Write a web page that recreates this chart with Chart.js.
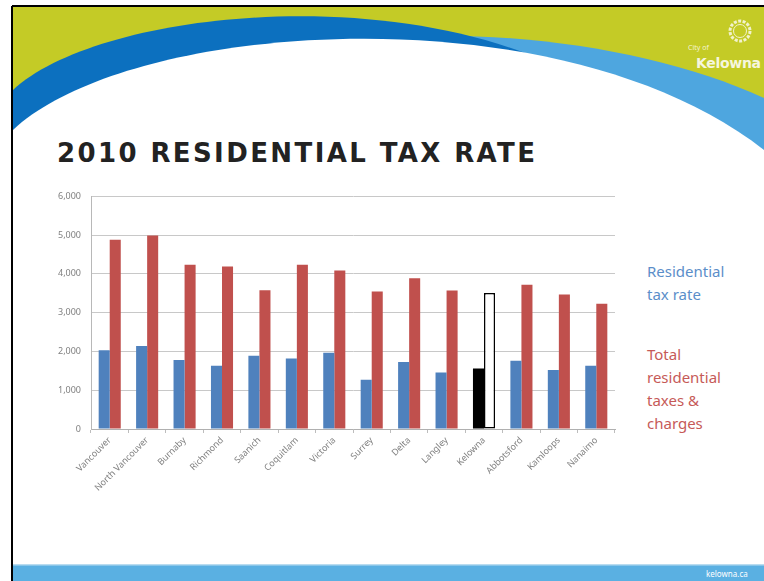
<!DOCTYPE html>
<html>
<head>
<meta charset="utf-8">
<script src="https://cdn.jsdelivr.net/npm/chart.js@4.4.1/dist/chart.umd.min.js"></script>
<style>
  body { margin: 0; width: 764px; height: 581px; overflow: hidden; background: #fff; position: relative; font-family: "Noto Sans", sans-serif; }
  #bg { position: absolute; left: 0; top: 0; }
  #title { position: absolute; left: 57px; top: 138px; font: bold 26px "DejaVu Sans", sans-serif; letter-spacing: 2.4px; color: #222; white-space: nowrap; }
  #chartBox { position: absolute; left: 41px; top: 181px; width: 580px; height: 340px; }
  .key { position: absolute; left: 647px; font-size: 15px; line-height: 23px; }
  #keyRate { top: 260px; color: #5b8ec9; }
  #keyTotal { top: 343px; color: #c65a58; }
  #city { position: absolute; left: 688px; top: 43px; font-size: 7px; color: #f4f4d0; }
  #kel { position: absolute; left: 696px; top: 55px; font: bold 14px "DejaVu Sans", sans-serif; color: #f6f6de; letter-spacing: -0.3px; }
  #site { position: absolute; left: 706px; top: 568px; font-size: 8px; color: #fff; }
</style>
</head>
<body>
<svg id="bg" width="764" height="581">
  <rect x="0" y="0" width="764" height="581" fill="#fff"/>
  <rect x="13" y="7" width="751" height="220" fill="#c4cb26"/>
  <path d="M360,40 C500,25 660,50 764,98 L764,300 L360,300 Z" fill="#4ea6df"/>
  <path d="M13,90 C90,18 350,-15 530,55 L530,300 L13,300 Z" fill="#0c70bf"/>
  <path d="M13,130 C130,20 560,-10 764,150 L764,300 L13,300 Z" fill="#fff"/>
  <g fill="none" stroke="#f2f2cc" stroke-width="3" stroke-dasharray="3 1.5">
    <circle cx="740" cy="31" r="10"/>
  </g>
  <circle cx="740" cy="31" r="6.5" fill="none" stroke="#f2f2cc" stroke-width="1"/>
  <rect x="13" y="565" width="751" height="16" fill="#5ab0e2"/>
  <rect x="13" y="564" width="751" height="1.5" fill="#b9dcf0"/>
  <path d="M12,6 L764,6 M12,6 L12,581" stroke="#000" stroke-width="2" fill="none"/>
</svg>
<div id="title">2010 RESIDENTIAL TAX RATE</div>
<div id="city">City of</div>
<div id="kel">Kelowna</div>
<div id="site">kelowna.ca</div>
<div id="chartBox"><canvas id="taxChart"></canvas></div>
<div class="key" id="keyRate">Residential<br>tax rate</div>
<div class="key" id="keyTotal">Total<br>residential<br>taxes &amp;<br>charges</div>

<script>
// values
let cities = ['Vancouver', 'North Vancouver', 'Burnaby', 'Richmond', 'Saanich', 'Coquitlam', 'Victoria',
    'Surrey', 'Delta', 'Langley', 'Kelowna', 'Abbotsford', 'Kamloops', 'Nanaimo'];
let taxRate = [2030, 2140, 1780, 1630, 1890, 1820, 1970, 1270, 1730, 1460, 1560, 1760, 1520, 1630];
let totalTaxes = [4880, 4990, 4240, 4190, 3580, 4240, 4090, 3550, 3890, 3570, 3510, 3720, 3470, 3230];
let yTicks = [0, 1000, 2000, 3000, 4000, 5000, 6000];

let home = 'Kelowna';

var ctx = document.getElementById('taxChart').getContext('2d');

var taxChart = new Chart(ctx, {
    type: 'bar',
    data: {
        labels: cities,
        datasets: [{
            label: 'Residential tax rate',
            data: taxRate,
            backgroundColor: cities.map(c => c === home ? '#000000' : '#4f81bd'),
            borderWidth: 0
        }, {
            label: 'Total residential taxes & charges',
            data: totalTaxes,
            backgroundColor: cities.map(c => c === home ? '#ffffff' : '#c0504d'),
            borderColor: '#000000',
            borderWidth: cities.map(c => c === home ? 1.5 : 0),
            borderSkipped: false
        }]
    },
    options: {
        responsive: true,
        maintainAspectRatio: false,
        animation: false,
        barPercentage: 1,
        categoryPercentage: 0.59,
        layout: {
            padding: { top: 11, right: 6, left: 0, bottom: 0 }
        },
        plugins: {
            legend: { display: false },
            tooltip: { enabled: false }
        },
        scales: {
            x: {
                grid: { drawOnChartArea: false, drawTicks: true, tickLength: 4, color: '#bdbdbd' },
                border: { color: '#b0b0b0' },
                ticks: {
                    autoSkip: false,
                    maxRotation: 45,
                    minRotation: 45,
                    padding: 2,
                    color: '#808080',
                    font: { size: 9, family: 'Noto Sans' }
                },
                afterFit: s => { s.height = 92; }
            },
            y: {
                min: 0,
                max: 6000,
                afterBuildTicks: s => { s.ticks = yTicks.map(v => ({ value: v })); },
                grid: { color: '#c8c8c8', drawTicks: false },
                border: { color: '#b8b8b8' },
                ticks: {
                    padding: 10,
                    color: '#808080',
                    font: { size: 9, family: 'Noto Sans' },
                    callback: v => new Intl.NumberFormat('en-US').format(v)
                },
                afterFit: s => { s.width = 50; }
            }
        }
    }
});
</script>
</body>
</html>
